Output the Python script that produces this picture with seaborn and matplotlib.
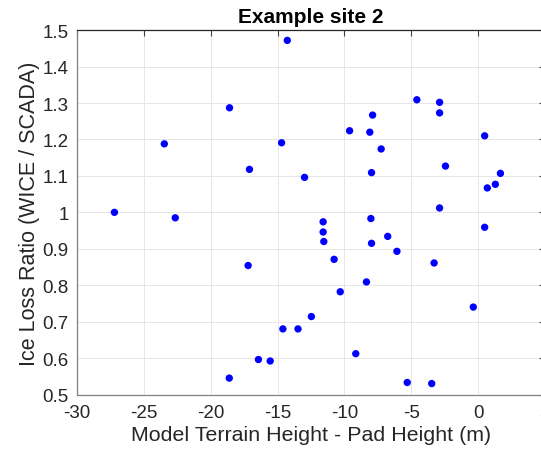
import matplotlib
matplotlib.use("Agg")
import matplotlib.pyplot as plt
import seaborn as sns
import pandas as pd

height_diff = [
    -14.27, -18.59, -4.58, -2.88, -2.88, -7.89,
    -23.47, -14.70, -17.10, -12.98, -9.61, -8.10, -7.25, -7.97, -2.44, 0.49,
    1.67, 1.29, 0.69, -27.20, -22.65, -2.88, -11.59, -11.59, -11.54, -8.02,
    -6.76, -7.97, -6.07, 0.49, -10.77, -17.20, -3.29,
    -8.35, -10.31, -0.36, -12.47, -14.60, -13.47, -9.15, -16.43, -15.55,
    -18.61, -5.30, -3.47,
]
ice_loss_ratio = [
    1.472, 1.287, 1.309, 1.302, 1.273, 1.267,
    1.188, 1.191, 1.118, 1.096, 1.224, 1.220, 1.174, 1.109, 1.127, 1.210,
    1.107, 1.077, 1.067, 1.000, 0.985, 1.012, 0.974, 0.946, 0.920, 0.983,
    0.934, 0.915, 0.893, 0.959, 0.871, 0.854, 0.861,
    0.809, 0.782, 0.740, 0.714, 0.680, 0.680, 0.612, 0.596, 0.592,
    0.545, 0.533, 0.530,
]
x_ticks = [-30, -25, -20, -15, -10, -5, 0, 5]
y_ticks = [0.5, 0.6, 0.7, 0.8, 0.9, 1.0, 1.1, 1.2, 1.3, 1.4, 1.5]
y_tick_labels = ["0.5", "0.6", "0.7", "0.8", "0.9", "1", "1.1", "1.2", "1.3", "1.4", "1.5"]

df = pd.DataFrame({"x": height_diff, "y": ice_loss_ratio})

sns.set_style("whitegrid")
plt.rcParams["font.family"] = ["Liberation Sans", "DejaVu Sans"]
plt.rcParams["axes.unicode_minus"] = False

fig = plt.figure(figsize=(5.41, 4.52), dpi=100)
ax = fig.add_axes([0.1423, 0.125, 0.865, 0.806])

sns.scatterplot(data=df, x="x", y="y", ax=ax, color="#0000ff", s=28,
                edgecolor="none", linewidth=0, zorder=3)

ax.set_xlim(-30, 5)
ax.set_ylim(0.5, 1.5)
ax.set_xticks(x_ticks)
ax.set_yticks(y_ticks)
ax.set_yticklabels(y_tick_labels)
ax.grid(True, color="#e6e6e6", linewidth=0.7)
ax.set_axisbelow(True)

for side in ["left", "bottom"]:
    ax.spines[side].set_color("#808080")
    ax.spines[side].set_linewidth(0.9)
ax.spines["top"].set_color("#262626")
ax.spines["top"].set_linewidth(0.9)
ax.spines["right"].set_color("#262626")

ax.tick_params(direction="in", length=4.5, width=0.8, color="#404040",
               labelsize=13.5, labelcolor="#262626", top=True, right=True)
ax.tick_params(axis="x", pad=7)
ax.tick_params(axis="y", pad=6)

ax.set_xlabel("Model Terrain Height - Pad Height (m)", fontsize=15.4,
              color="#262626", labelpad=3)
ax.set_ylabel("Ice Loss Ratio (WICE / SCADA)", fontsize=15.5,
              color="#262626", labelpad=2)
ax.set_title("Example site 2", fontsize=15, fontweight="bold", color="black",
             pad=6)

fig.savefig("out.png", dpi=100)
